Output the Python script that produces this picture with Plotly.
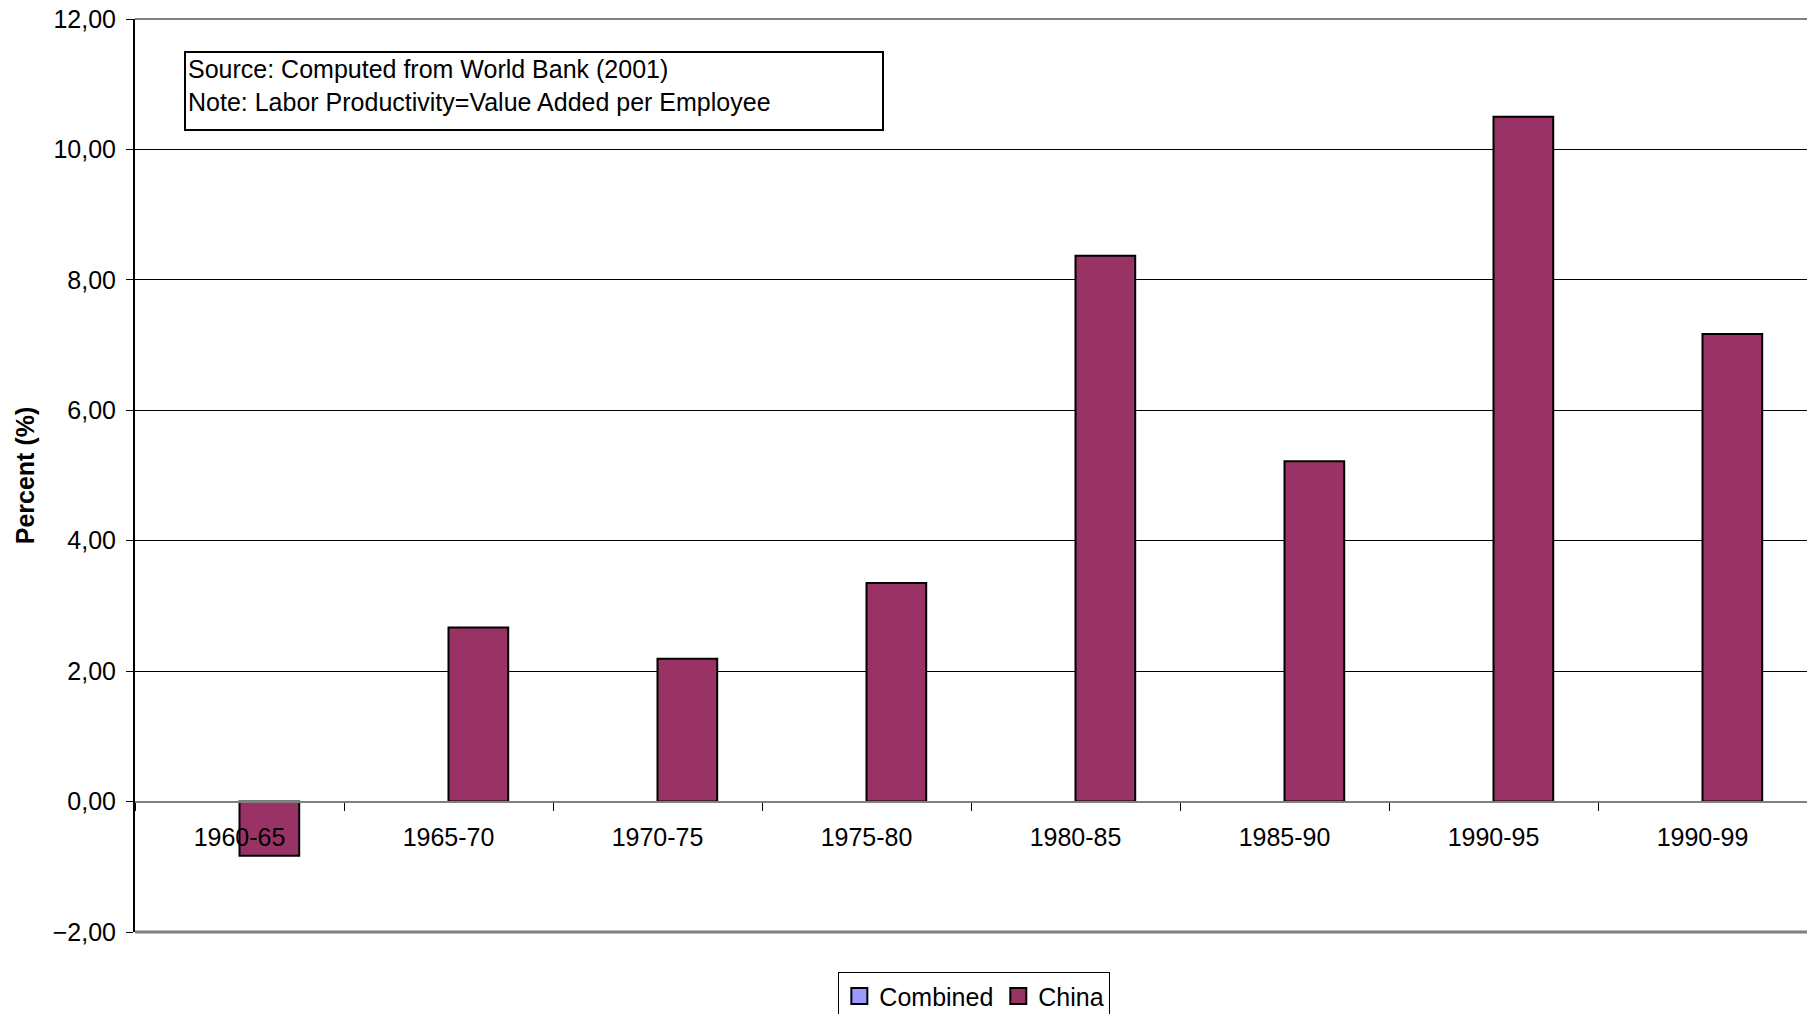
import plotly.graph_objects as go

categories = ["1960-65", "1965-70", "1970-75", "1975-80", "1980-85", "1985-90", "1990-95", "1990-99"]
combined = [None, None, None, None, None, None, None, None]
china = [-0.83, 2.67, 2.19, 3.35, 8.37, 5.22, 10.50, 7.17]
y_ticks = [-2, 0, 2, 4, 6, 8, 10, 12]
series_names = ["Combined", "China"]
series_colors = ["#9999FF", "#993366"]

FONT = "Liberation Sans, Arial, sans-serif"

fig = go.Figure()
for name, vals, col in zip(series_names, [combined, china], series_colors):
    fig.add_trace(go.Bar(name=name, x=categories, y=vals, showlegend=False,
                         marker=dict(color=col, line=dict(color="black", width=2))))
# legend entries with larger square swatches
for name, col in zip(series_names, series_colors):
    fig.add_trace(go.Scatter(name=name, x=[None], y=[None], mode="markers",
                             marker=dict(symbol="square", size=16, color=col,
                                         line=dict(color="black", width=2))))

W, H = 1807, 1014
ml, mr, mt, mb = 135, 0, 19, 82
plot_h = H - mt - mb
zero_frac = (0 - (-2)) / (12 - (-2))

fig.update_layout(
    width=W, height=H,
    margin=dict(l=ml, r=mr, t=mt, b=mb, pad=0, autoexpand=False),
    paper_bgcolor="white", plot_bgcolor="white",
    font=dict(family=FONT, size=25, color="black"),
    separators=",.",
    barmode="group", bargap=1.5 / 3.5, bargroupgap=0,
    showlegend=True,
    legend=dict(orientation="h", x=0.502, xanchor="center", y=-0.044, yanchor="top",
                bordercolor="black", borderwidth=1, font=dict(size=25),
                itemwidth=30, tracegroupgap=0, itemsizing="trace"),
    xaxis=dict(type="category", anchor="free", position=zero_frac, automargin=False,
               showline=True, linecolor="#808080", linewidth=2,
               ticks="outside", tickson="boundaries", ticklen=8, tickcolor="black",
               tickwidth=1, showgrid=False, zeroline=False,
               ticklabelstandoff=13, tickfont=dict(size=25)),
    yaxis=dict(range=[-2, 12], tickvals=y_ticks, tickformat=".2f", automargin=False,
               showline=True, linecolor="black", linewidth=2,
               ticks="outside", ticklen=7, tickcolor="black",
               showgrid=True, gridcolor="black", gridwidth=1,
               zeroline=False, ticklabelstandoff=5,
               title=dict(text="<b>Percent (%)</b>", standoff=11, font=dict(size=25))),
    annotations=[dict(
        xref="paper", yref="paper", x=(184 - ml) / (W - ml - mr), y=(H - mb - 51) / plot_h,
        xanchor="left", yanchor="top", align="left", valign="top",
        text="Source: Computed from World Bank (2001)<br>Note: Labor Productivity=Value Added per Employee",
        showarrow=False, bordercolor="black", borderwidth=2, bgcolor="white",
        width=692, height=72, borderpad=2, font=dict(size=25))],
    shapes=[
        dict(type="line", xref="paper", yref="paper", x0=0, x1=1, y0=1, y1=1,
             line=dict(color="#808080", width=2), layer="above"),
        dict(type="line", xref="paper", yref="paper", x0=0, x1=1, y0=0, y1=0,
             line=dict(color="#808080", width=3), layer="above"),
    ],
)

fig.write_html("out.html", config={"displayModeBar": False},
               post_script="document.body.style.margin='0';document.body.style.overflow='hidden';")
